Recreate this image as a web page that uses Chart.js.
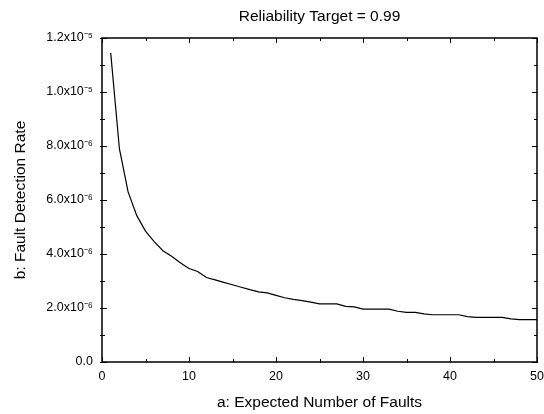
<!DOCTYPE html>
<html lang="en">
<head>
    <meta charset="UTF-8">
    <title>Reliability Target = 0.99</title>
    <script src="https://cdn.jsdelivr.net/npm/chart.js"></script>
    <style>
        body { margin: 0; background: #fff; }
        #wrap { width: 544px; height: 414px; }
    </style>
</head>
<body>
<div id="wrap"><canvas id="c"></canvas></div>
<script>
    // a: expected number of faults
    const faults = [1, 2, 3, 4, 5, 6, 7, 8, 9, 10,
        11, 12, 13, 14, 15, 16, 17, 18, 19, 20,
        21, 22, 23, 24, 25, 26, 27, 28, 29, 30,
        31, 32, 33, 34, 35, 36, 37, 38, 39, 40,
        41, 42, 43, 44, 45, 46, 47, 48, 49, 50];
    // b: fault detection rate, in units of 1e-6
    const rateE6 = [11.45, 7.9, 6.3, 5.42, 4.85, 4.46, 4.12, 3.92, 3.68, 3.46,
        3.35, 3.13, 3.04, 2.95, 2.86, 2.77, 2.68, 2.6, 2.56, 2.47,
        2.38, 2.32, 2.27, 2.22, 2.15, 2.15, 2.15, 2.06, 2.04, 1.96,
        1.96, 1.96, 1.96, 1.88, 1.84, 1.84, 1.78, 1.75, 1.75, 1.75,
        1.75, 1.68, 1.65, 1.65, 1.65, 1.65, 1.6, 1.57, 1.57, 1.57];
    const yTickLabels = ['0.0', '2.0x10⁻⁶', '4.0x10⁻⁶', '6.0x10⁻⁶', '8.0x10⁻⁶', '1.0x10⁻⁵', '1.2x10⁻⁵'];
    const titleText = 'Reliability Target = 0.99';

    const FONT = '"Liberation Sans", Arial, sans-serif';

    // frame, inward major/minor ticks on all four sides, title over the plot
    const frame = {
        id: 'frame',
        afterDraw(chart) {
            const { ctx, chartArea: a, scales: { x, y } } = chart;
            ctx.save();
            ctx.strokeStyle = '#000';
            ctx.lineWidth = 1.5;
            ctx.strokeRect(a.left, a.top, a.right - a.left, a.bottom - a.top);

            ctx.lineWidth = 1;
            const withMinor = (scale) => {
                const v = scale.ticks.map(t => t.value);
                const out = v.map(val => [val, 5]);
                for (let i = 0; i < v.length - 1; i++) out.push([(v[i] + v[i + 1]) / 2, 3]);
                return out;
            };
            ctx.beginPath();
            withMinor(x).forEach(([v, len]) => {
                const px = Math.round(x.getPixelForValue(v)) + 0.5;
                ctx.moveTo(px, a.bottom + 1); ctx.lineTo(px, a.bottom - len);
                ctx.moveTo(px, a.top); ctx.lineTo(px, a.top + len);
            });
            withMinor(y).forEach(([v, len]) => {
                const py = Math.round(y.getPixelForValue(v)) + 0.5;
                ctx.moveTo(a.left - 2, py); ctx.lineTo(a.left + len, py);
                ctx.moveTo(a.right, py); ctx.lineTo(a.right - len, py);
            });
            ctx.stroke();

            ctx.fillStyle = '#000';
            ctx.font = '15.5px ' + FONT;
            ctx.textAlign = 'center';
            ctx.textBaseline = 'middle';
            ctx.fillText(titleText, (a.left + a.right) / 2, 17);
            ctx.restore();
        }
    };

    new Chart(document.getElementById('c'), {
        type: 'line',
        data: {
            datasets: [{
                data: faults.map((a, i) => ({ x: a, y: rateE6[i] * 1e-6 })),
                borderColor: '#000',
                borderWidth: 1.2,
                pointRadius: 0,
                tension: 0,
                fill: false
            }]
        },
        options: {
            responsive: true,
            maintainAspectRatio: false,
            animation: false,
            layout: { padding: { top: 38, right: 7, left: 0, bottom: 0 } },
            plugins: { legend: { display: false }, tooltip: { enabled: false } },
            scales: {
                x: {
                    type: 'linear',
                    min: 0, max: 50,
                    afterFit: s => { s.height = 52; s.paddingLeft = 0; s.paddingRight = 0; },
                    grid: { display: false, drawTicks: false },
                    border: { display: false },
                    ticks: { stepSize: 10, padding: 7, color: '#000', font: { family: FONT, size: 12.5 }, maxRotation: 0 },
                    title: { display: true, text: 'a: Expected Number of Faults', color: '#000', font: { family: FONT, size: 15.5 }, padding: { top: 0, bottom: 2 } }
                },
                y: {
                    min: 0, max: 1.2e-5,
                    afterFit: s => { s.width = 102; s.paddingTop = 0; s.paddingBottom = 0; },
                    grid: { display: false, drawTicks: false },
                    border: { display: false },
                    ticks: {
                        stepSize: 2e-6, padding: 9, color: '#000', font: { family: FONT, size: 12.5 },
                        callback: (v, i) => yTickLabels[i]
                    },
                    title: { display: true, text: 'b: Fault Detection Rate', color: '#000', font: { family: FONT, size: 15.5 }, padding: { top: 11, bottom: 0 } }
                }
            }
        },
        plugins: [frame]
    });
</script>
</body>
</html>
